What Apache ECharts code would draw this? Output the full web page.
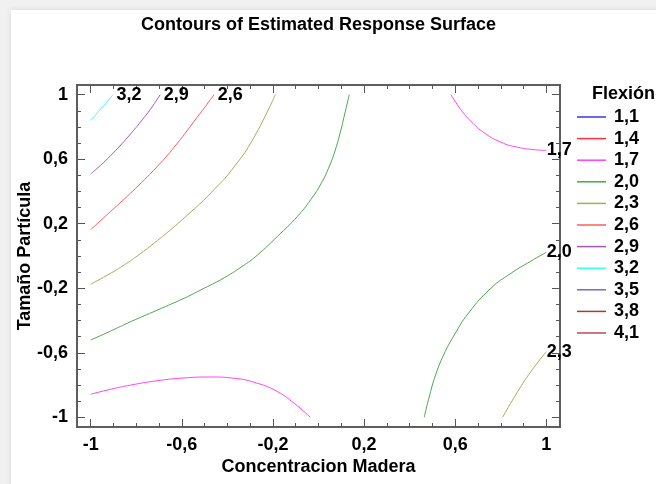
<!DOCTYPE html>
<html>
<head>
<meta charset="utf-8">
<script src="https://cdn.jsdelivr.net/npm/echarts@6/dist/echarts.min.js"></script>
<style>
  html, body { margin: 0; padding: 0; width: 656px; height: 484px; overflow: hidden; background: #f1f1f1; }
  #card { position: absolute; left: 11px; top: 10px; width: 700px; height: 520px; background: #fff; box-shadow: 0 0 6px rgba(0,0,0,0.10); }
  #chart { position: absolute; left: 0; top: 0; width: 656px; height: 484px; }
</style>
</head>
<body>
<div id="card"></div>
<div id="chart"></div>
<script>
// Tick positions (both axes share the coded range -1..1)
const majorTicks = [-1, -0.6, -0.2, 0.2, 0.6, 1];
const minorTicks = [-1, -0.9, -0.8, -0.7, -0.6, -0.5, -0.4, -0.3, -0.2, -0.1, 0,
                    0.1, 0.2, 0.3, 0.4, 0.5, 0.6, 0.7, 0.8, 0.9, 1];

// Contour levels of the response "Flexión"
const levels = ['1,1', '1,4', '1,7', '2,0', '2,3', '2,6', '2,9', '3,2', '3,5', '3,8', '4,1'];

// Contour paths, [Concentracion Madera, Tamaño Partícula]
const contour32 = [[-1, 0.841], [-0.953, 0.917], [-0.902, 1]];
const contour29 = [[-1, 0.508], [-0.956, 0.563], [-0.912, 0.623], [-0.868, 0.688], [-0.824, 0.758],
                   [-0.780, 0.833], [-0.736, 0.913], [-0.695, 1]];
const contour26 = [[-1, 0.163], [-0.912, 0.277], [-0.824, 0.391], [-0.707, 0.556], [-0.619, 0.700],
                   [-0.546, 0.835], [-0.458, 1]];
const contour23Left = [[-1, -0.175], [-0.912, -0.107], [-0.853, -0.056], [-0.795, 0.001], [-0.707, 0.096],
                       [-0.575, 0.254], [-0.458, 0.412], [-0.370, 0.553], [-0.282, 0.738], [-0.190, 1]];
const contour23Right = [[0.808, -1], [0.874, -0.841], [0.932, -0.717], [1, -0.593]];
const contour20Left = [[-1, -0.521], [-0.912, -0.465], [-0.824, -0.407], [-0.707, -0.335], [-0.590, -0.262],
                       [-0.502, -0.200], [-0.414, -0.135], [-0.326, -0.056], [-0.268, 0.006], [-0.180, 0.122],
                       [-0.092, 0.246], [-0.034, 0.349], [0.013, 0.453], [0.048, 0.558], [0.075, 0.663],
                       [0.096, 0.769], [0.114, 0.874], [0.135, 1]];
const contour20Right = [[0.464, -1], [0.488, -0.862], [0.514, -0.738], [0.549, -0.614], [0.596, -0.490],
                        [0.659, -0.353], [0.757, -0.200], [0.845, -0.107], [0.932, -0.032], [1, 0.023]];
const contour17Upper = [[0.581, 1], [0.625, 0.907], [0.669, 0.835], [0.728, 0.763], [0.801, 0.705],
                        [0.874, 0.674], [0.947, 0.659], [1, 0.655]];
const contour17Lower = [[-1, -0.857], [-0.912, -0.826], [-0.824, -0.800], [-0.707, -0.773], [-0.590, -0.756],
                        [-0.473, -0.750], [-0.370, -0.758], [-0.268, -0.789], [-0.180, -0.841],
                        [-0.107, -0.913], [-0.036, -1]];

// Style settings
const levelColors = ['#3636ff', '#ff3333', '#ff40ff', '#4ea64e', '#aaaa5a', '#ff5c5c',
                     '#a855b8', '#33ffff', '#7a66cc', '#a83a3a', '#bf4e4e'];
const FONT = '"Liberation Sans", Arial, sans-serif';
const AXIS_COLOR = '#555';
const RANGE = 1.06;

const fmt = v => String(v).replace('.', ',');

// Which paths belong to which level, and which ones carry an end label
const paths = [
  { level: '1,7', points: contour17Upper, label: true, gap: 0 },
  { level: '1,7', points: contour17Lower, label: false },
  { level: '2,0', points: contour20Left, label: false },
  { level: '2,0', points: contour20Right, label: true, gap: 0 },
  { level: '2,3', points: contour23Left, label: false },
  { level: '2,3', points: contour23Right, label: true, gap: 0 },
  { level: '2,6', points: contour26, label: true, gap: 3 },
  { level: '2,9', points: contour29, label: true, gap: 3 },
  { level: '3,2', points: contour32, label: true, gap: 3 }
];

const series = [];
levels.forEach((lv, i) => {
  const own = paths.filter(p => p.level === lv);
  const list = own.length ? own : [{ level: lv, points: [], label: false }];
  list.forEach(p => {
    const s = {
      name: lv,
      type: 'line',
      xAxisIndex: 0,
      yAxisIndex: 0,
      data: p.points,
      symbol: 'none',
      showSymbol: false,
      smooth: 0.5,
      color: levelColors[i],
      lineStyle: { color: levelColors[i], width: 1 },
      z: 3
    };
    if (p.label) {
      const last = p.points[p.points.length - 1];
      s.markPoint = {
        symbol: 'circle',
        symbolSize: 1,
        itemStyle: { color: 'rgba(0,0,0,0)' },
        silent: true,
        data: [{ coord: last }],
        label: {
          show: true,
          position: 'right',
          distance: p.gap,
          formatter: lv,
          color: '#000',
          fontFamily: FONT,
          fontSize: 18,
          fontWeight: 'bold'
        }
      };
    }
    series.push(s);
  });
});

function makeAxis(position, ticks, tickLen, withLabels, name, nameGap) {
  const ax = {
    type: 'value',
    position: position,
    min: -RANGE,
    max: RANGE,
    axisLine: { show: true, onZero: false, lineStyle: { color: AXIS_COLOR, width: 1.5 } },
    axisTick: { show: true, inside: true, length: tickLen, customValues: ticks,
                lineStyle: { color: AXIS_COLOR, width: 1 } },
    axisLabel: withLabels ? {
      show: true, customValues: majorTicks, formatter: fmt, margin: 9,
      color: '#000', fontFamily: FONT, fontSize: 18, fontWeight: 'bold'
    } : { show: false },
    splitLine: { show: false }
  };
  if (name) {
    ax.name = name;
    ax.nameLocation = 'middle';
    ax.nameGap = nameGap;
    ax.nameMoveOverlap = false;
    ax.nameTextStyle = { color: '#000', fontFamily: FONT, fontSize: 18, fontWeight: 'bold' };
  }
  return ax;
}

const chart = echarts.init(document.getElementById('chart'), null, { renderer: 'canvas' });
chart.setOption({
  backgroundColor: 'transparent',
  animation: false,
  grid: { left: 77, right: 96, top: 85, bottom: 57, outerBoundsMode: 'none', containLabel: false },
  xAxis: [
    makeAxis('bottom', majorTicks, 8, true, 'Concentracion Madera', 31),
    makeAxis('bottom', minorTicks, 4, false),
    makeAxis('top', majorTicks, 8, false),
    makeAxis('top', minorTicks, 4, false)
  ],
  yAxis: [
    makeAxis('left', majorTicks, 8, true, 'Tamaño Partícula', 43),
    makeAxis('left', minorTicks, 4, false),
    makeAxis('right', majorTicks, 8, false),
    makeAxis('right', minorTicks, 4, false)
  ],
  legend: {
    data: levels.map(lv => ({ name: lv, icon: 'rect' })),
    orient: 'vertical',
    left: 577,
    top: 108,
    padding: 0,
    itemWidth: 29,
    itemHeight: 1.5,
    itemGap: 3.6,
    selectedMode: false,
    textStyle: { color: '#000', fontFamily: FONT, fontSize: 18, fontWeight: 'bold', padding: [0, 0, 0, 3] }
  },
  graphic: [
    {
      type: 'text', x: 318.5, y: 25, silent: true,
      style: { text: 'Contours of Estimated Response Surface', fill: '#000', font: 'bold 18px ' + FONT,
               textAlign: 'center', textVerticalAlign: 'middle' }
    },
    {
      type: 'text', x: 592, y: 94, silent: true,
      style: { text: 'Flexión', fill: '#000', font: 'bold 18px ' + FONT,
               textAlign: 'left', textVerticalAlign: 'middle' }
    }
  ],
  series: series
});
</script>
</body>
</html>
